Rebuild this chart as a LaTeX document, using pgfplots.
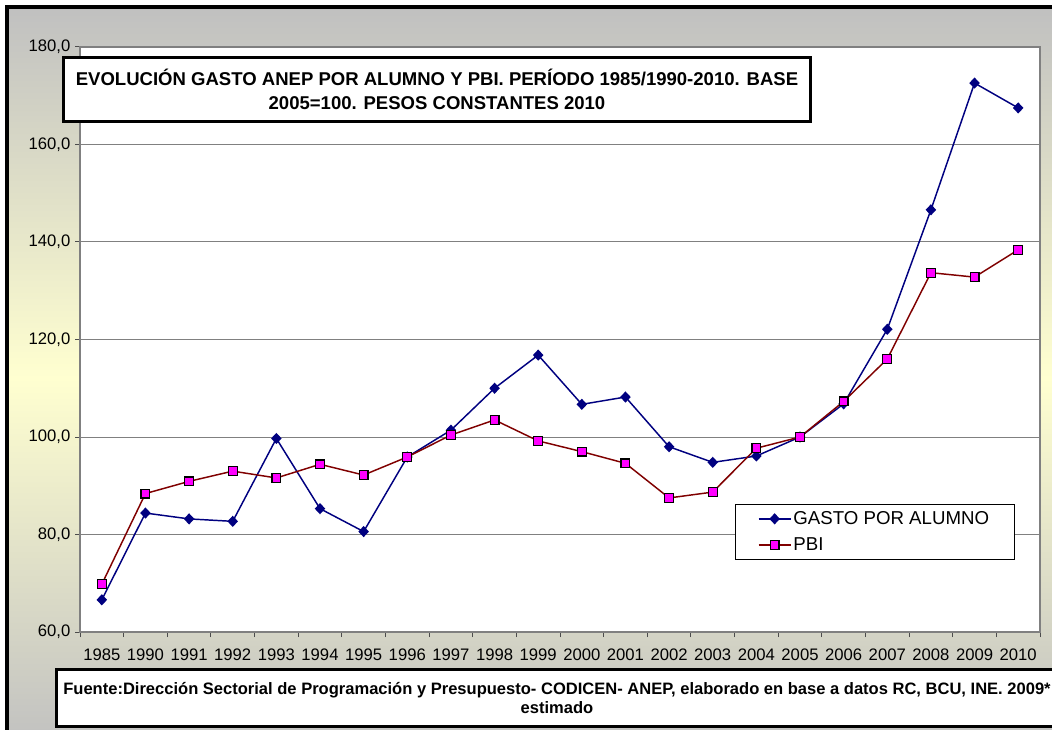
\documentclass[border=0pt]{standalone}
\usepackage{pgfplots}
\pgfplotsset{compat=1.18}
\usepackage{fontspec}
\setmainfont{Liberation Sans}
\definecolor{navyb}{HTML}{000080}
\definecolor{darkr}{HTML}{800000}
\definecolor{mag}{HTML}{FF00FF}
\definecolor{silv}{HTML}{C0C0C0}
\definecolor{paley}{HTML}{FFFFD0}
\begin{document}
\begin{tikzpicture}
\begin{scope}[x=0.75pt,y=0.75pt]
\clip (0,0) rectangle (1052,729);
\shade[top color=silv, bottom color=silv, middle color=paley] (7,722) rectangle (1080,-20);
\draw[line width=3pt, black] (7,722) rectangle (1080,-20);
\end{scope}
\begin{axis}[
  at={(60pt,72.75pt)}, anchor=south west,
  width=720pt, height=438.75pt, scale only axis,
  xmin=0, xmax=22, ymin=60, ymax=180,
  axis background/.style={fill=white},
  axis line style={draw=gray, line width=1.5pt},
  xtick={0.5,1.5,...,21.5},
  xticklabels={1985,1990,1991,1992,1993,1994,1995,1996,1997,1998,1999,2000,2001,2002,2003,2004,2005,2006,2007,2008,2009,2010},
  minor xtick={0,1,...,22},
  major x tick style={draw=none},
  minor tick length=3.75pt,
  major tick length=3.75pt,
  tick align=outside,
  xtick pos=bottom, ytick pos=left,
  tick style={draw=black!70, line width=0.75pt},
  ytick={60,80,...,180},
  yticklabels={{60,0},{80,0},{100,0},{120,0},{140,0},{160,0},{180,0}},
  ymajorgrids,
  major grid style={draw=gray, line width=0.75pt},
  ticklabel style={font=\fontsize{12.5}{14}\selectfont},
  xticklabel style={yshift=-5.5pt},
  legend style={at={(0.682,0.219)}, anchor=north west, draw=black, line width=0.75pt, fill=white,
    inner xsep=17pt, inner ysep=1pt, font=\fontsize{14}{16}\selectfont,
    nodes={inner xsep=1.5pt, inner ysep=4.2pt}},
  legend cell align=left,
  legend image code/.code={\draw[mark repeat=2,mark phase=2,#1] plot coordinates {(0pt,0pt) (12pt,0pt) (24pt,0pt)};},
]
\addplot[navyb, line width=1.1pt, mark=diamond*, mark size=3.4pt,
  mark options={xscale=1.25, fill=navyb, draw=navyb}] coordinates {
(0.5,66.6) (1.5,84.4) (2.5,83.2) (3.5,82.7) (4.5,99.7) (5.5,85.3) (6.5,80.6) (7.5,95.9)
(8.5,101.4) (9.5,110.0) (10.5,116.8) (11.5,106.7) (12.5,108.2) (13.5,98.0) (14.5,94.8)
(15.5,96.1) (16.5,100.0) (17.5,106.8) (18.5,122.1) (19.5,146.6) (20.5,172.6) (21.5,167.5)};
\addlegendentry{\makebox[147pt][l]{GASTO POR ALUMNO}}
\addplot[darkr, line width=1.1pt, mark=square*, mark size=3.3pt,
  mark options={fill=mag, draw=black, line width=0.9pt}] coordinates {
(0.5,69.8) (1.5,88.4) (2.5,90.9) (3.5,93.0) (4.5,91.6) (5.5,94.4) (6.5,92.2) (7.5,95.9)
(8.5,100.4) (9.5,103.5) (10.5,99.2) (11.5,97.0) (12.5,94.6) (13.5,87.5) (14.5,88.7)
(15.5,97.7) (16.5,100.0) (17.5,107.3) (18.5,116.0) (19.5,133.7) (20.5,132.8) (21.5,138.4)};
\addlegendentry{\makebox[147pt][l]{PBI}}
\end{axis}
\begin{scope}[x=0.75pt,y=0.75pt]
\node[draw=black, line width=2.25pt, fill=white, minimum width=560pt, minimum height=48pt,
  align=center, font=\bfseries\fontsize{13.9}{18}\selectfont, inner sep=0pt]
  at (437,639.5) {EVOLUCIÓN GASTO ANEP POR ALUMNO Y PBI. PERÍODO 1985/1990-2010. BASE\\2005=100. PESOS CONSTANTES 2010};
\node[draw=black, line width=2.25pt, fill=white, minimum width=751pt, minimum height=43pt,
  align=center, font=\bfseries\fontsize{12.4}{14.25}\selectfont, inner sep=0pt]
  at (557,31) {Fuente:Dirección Sectorial de Programación y Presupuesto- CODICEN- ANEP, elaborado en base a datos RC, BCU, INE. 2009*\\estimado};
\pgfresetboundingbox
\useasboundingbox (0,0) rectangle (1052,729);
\end{scope}
\end{tikzpicture}
\end{document}
